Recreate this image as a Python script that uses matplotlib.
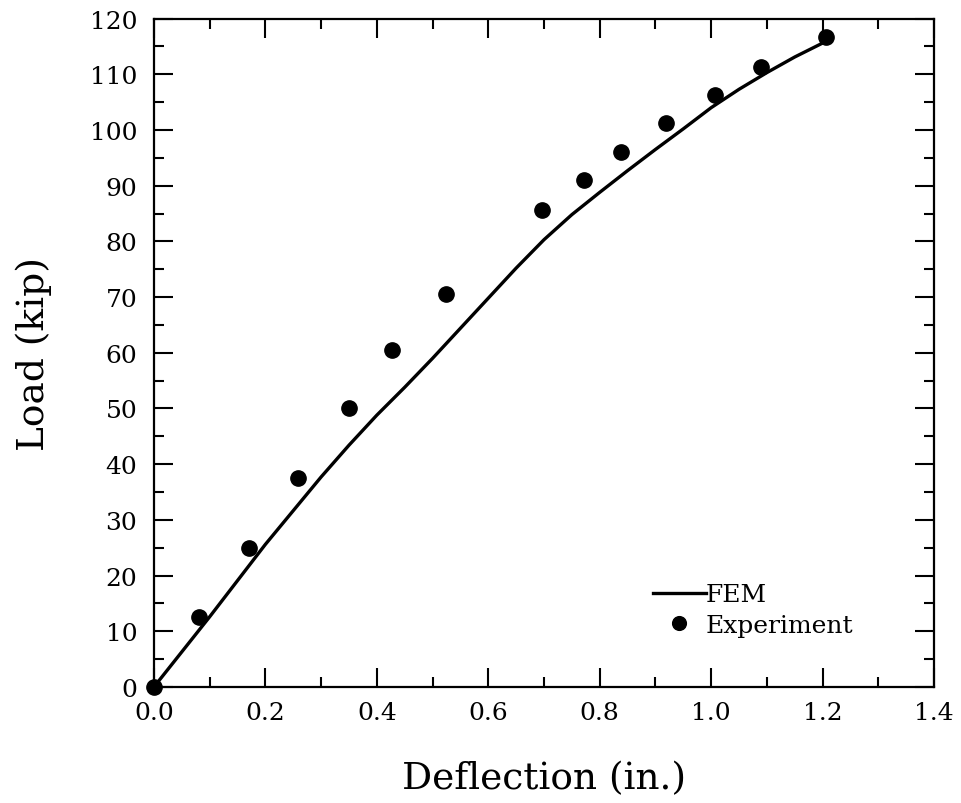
import matplotlib
matplotlib.use('Agg')
import matplotlib.pyplot as plt
from matplotlib.ticker import MultipleLocator

# curva FEM
fem_x = [0.0, 0.1, 0.2, 0.3, 0.35, 0.4, 0.45, 0.5, 0.55, 0.6, 0.65, 0.7, 0.75, 0.8,
         0.85, 0.9, 0.95, 1.0, 1.05, 1.1, 1.15, 1.2]
fem_y = [0.0, 12.6, 25.6, 37.7, 43.4, 48.8, 53.8, 59.0, 64.4, 69.8, 75.2, 80.3, 84.8, 88.8,
         92.7, 96.5, 100.2, 104.0, 107.3, 110.3, 113.1, 115.6]

# pontos experimentais
exp_x = [0.0, 0.081, 0.171, 0.259, 0.350, 0.428, 0.524, 0.697, 0.772, 0.839, 0.919, 1.007, 1.089, 1.206]
exp_y = [0.0, 12.5, 25.0, 37.5, 50.0, 60.5, 70.5, 85.7, 91.0, 96.0, 101.2, 106.3, 111.3, 116.6]

plt.rcParams['font.family'] = ['DejaVu Serif']

fig = plt.figure(figsize=(9.62, 8.04), dpi=100)
ax = fig.add_axes([0.160, 0.1443, 0.811, 0.8314])

ax.plot(fem_x, fem_y, color='black', lw=2.4, label='FEM')
ax.plot(exp_x, exp_y, 'o', color='black', ms=11, label='Experiment', clip_on=False)

ax.set_xlim(0, 1.4)
ax.set_ylim(0, 120)
ax.xaxis.set_major_locator(MultipleLocator(0.2))
ax.xaxis.set_minor_locator(MultipleLocator(0.1))
ax.yaxis.set_major_locator(MultipleLocator(10))
ax.yaxis.set_minor_locator(MultipleLocator(5))
ax.xaxis.set_major_formatter(lambda v, p: f'{v:.1f}')

ax.tick_params(which='both', direction='in', top=True, right=True, width=1.5, labelsize=18)
ax.tick_params(which='major', length=14)
ax.tick_params(which='minor', length=7)
ax.tick_params(axis='x', pad=10)
ax.tick_params(axis='y', pad=12)
for s in ax.spines.values():
    s.set_linewidth(1.6)

ax.set_xlabel('Deflection (in.)', fontsize=27)
ax.set_ylabel('Load (kip)', fontsize=27)
ax.xaxis.set_label_coords(0.5, -0.11)
ax.yaxis.set_label_coords(-0.13, 0.5)

ax.legend(loc='lower left', bbox_to_anchor=(0.64, 0.075), frameon=False, fontsize=18,
          handlelength=2.1, handletextpad=0.0, numpoints=1, markerscale=0.9,
          labelspacing=0.3, borderpad=0, borderaxespad=0)

fig.savefig('out.png', dpi=100)
